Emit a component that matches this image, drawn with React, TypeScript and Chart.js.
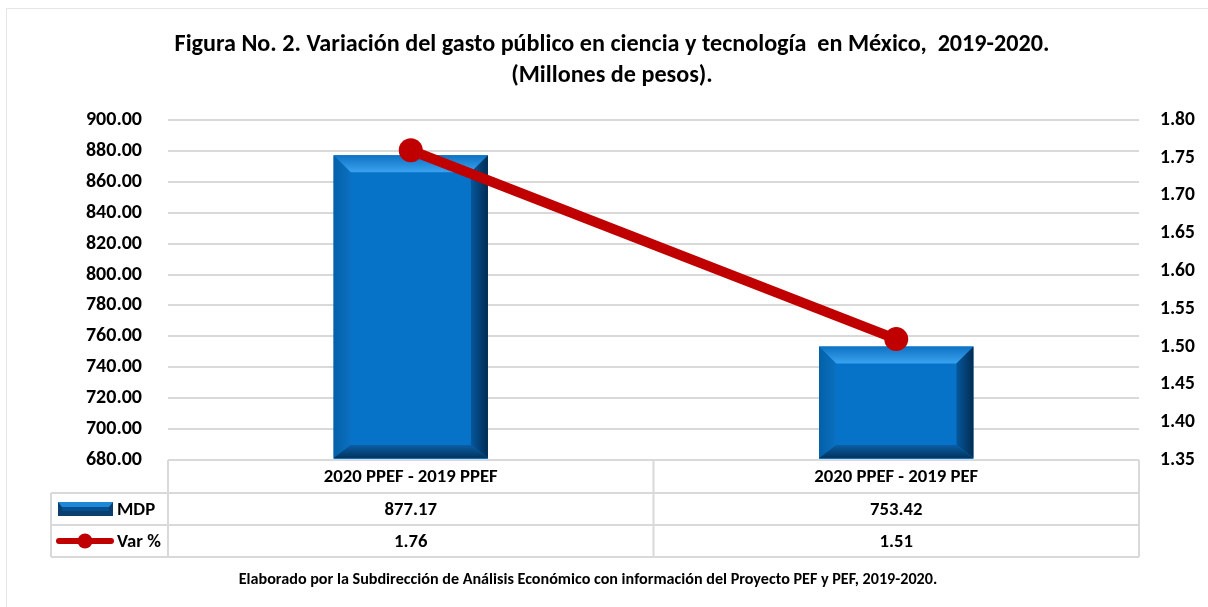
import React, { useEffect, useRef } from 'react';
import { Chart, registerables } from 'chart.js';

Chart.register(...registerables);

const categories = ['2020 PPEF - 2019 PPEF', '2020 PPEF - 2019 PEF'];
const mdpValues = [877.17, 753.42];
const varValues = [1.76, 1.51];
const mdpLabels = ['877.17', '753.42'];
const varLabels = ['1.76', '1.51'];
const seriesNames = ['MDP', 'Var %'];
const titleLines = [
  'Figura No. 2. Variación del gasto público en ciencia y tecnología  en México,  2019-2020.',
  '(Millones de pesos).',
];
const footerText =
  'Elaborado por la Subdirección de Análisis Económico con información del Proyecto PEF y PEF, 2019-2020.';

const FONT = 'Carlito, Lato, sans-serif';
const GRID = '#D9D9D9';
const RED = '#C00000';
const FACE = '#0673C8';

function fitSize(ctx: CanvasRenderingContext2D, text: string, target: number) {
  ctx.font = `bold 100px ${FONT}`;
  const w = ctx.measureText(text).width;
  return (100 * target) / w;
}

function drawBevel(ctx: CanvasRenderingContext2D, l: number, t: number, r: number, b: number, bv: number, bb: number) {
  let g = ctx.createLinearGradient(0, t, 0, t + bv);
  g.addColorStop(0, '#0E72C2');
  g.addColorStop(1, '#3AA3F0');
  ctx.fillStyle = g;
  ctx.beginPath();
  ctx.moveTo(l, t); ctx.lineTo(r, t); ctx.lineTo(r - bv, t + bv); ctx.lineTo(l + bv, t + bv); ctx.closePath();
  ctx.fill();
  g = ctx.createLinearGradient(l, 0, l + bv, 0);
  g.addColorStop(0, '#0460A8');
  g.addColorStop(1, '#0A70C0');
  ctx.fillStyle = g;
  ctx.beginPath();
  ctx.moveTo(l, t); ctx.lineTo(l + bv, t + bv); ctx.lineTo(l + bv, b - bb); ctx.lineTo(l, b); ctx.closePath();
  ctx.fill();
  g = ctx.createLinearGradient(r, 0, r - bv, 0);
  g.addColorStop(0, '#022C52');
  g.addColorStop(1, '#05579C');
  ctx.fillStyle = g;
  ctx.beginPath();
  ctx.moveTo(r, t); ctx.lineTo(r, b); ctx.lineTo(r - bv, b - bb); ctx.lineTo(r - bv, t + bv); ctx.closePath();
  ctx.fill();
  g = ctx.createLinearGradient(0, b, 0, b - bb);
  g.addColorStop(0, '#03345E');
  g.addColorStop(1, '#0A5EA6');
  ctx.fillStyle = g;
  ctx.beginPath();
  ctx.moveTo(l, b); ctx.lineTo(r, b); ctx.lineTo(r - bv, b - bb); ctx.lineTo(l + bv, b - bb); ctx.closePath();
  ctx.fill();
}

const customPlugin = {
  id: 'customDecor',
  beforeDraw(chart: any) {
    const ctx: CanvasRenderingContext2D = chart.ctx;
    ctx.save();
    ctx.fillStyle = '#FFFFFF';
    ctx.fillRect(0, 0, chart.width, chart.height);
    ctx.strokeStyle = '#E6E6E6';
    ctx.lineWidth = 1;
    ctx.strokeRect(6.5, 8.5, chart.width + 10, chart.height + 10);
    ctx.restore();
  },
  afterDatasetDraw(chart: any, args: any) {
    if (args.index !== 0) return;
    const ctx: CanvasRenderingContext2D = chart.ctx;
    const area = chart.chartArea;
    const meta = chart.getDatasetMeta(0);
    ctx.save();
    meta.data.forEach((el: any) => {
      const l = el.x - el.width / 2;
      const r = el.x + el.width / 2;
      const bottom = Math.min(el.base, area.bottom);
      drawBevel(ctx, l, el.y, r, bottom - 2, 17, 13);
      ctx.strokeStyle = '#8DB6DA';
      ctx.lineWidth = 1;
      ctx.beginPath();
      ctx.moveTo(l, bottom - 0.5);
      ctx.lineTo(r, bottom - 0.5);
      ctx.stroke();
    });
    ctx.restore();
  },
  afterDraw(chart: any) {
    const ctx: CanvasRenderingContext2D = chart.ctx;
    const area = chart.chartArea;
    const xs = chart.scales.x;
    ctx.save();
    ctx.fillStyle = '#000000';
    ctx.textAlign = 'center';
    ctx.textBaseline = 'middle';

    const ts = fitSize(ctx, titleLines[0], 875);
    ctx.font = `bold ${ts}px ${FONT}`;
    ctx.fillText(titleLines[0], 612, 45);
    ctx.fillText(titleLines[1], 612, 76);

    const rows = [area.bottom, area.bottom + 33, area.bottom + 65, area.bottom + 97];
    const legendLeft = 51;
    const n = categories.length;
    const colW = (area.right - area.left) / n;
    ctx.strokeStyle = GRID;
    ctx.lineWidth = 2;
    ctx.beginPath();
    ctx.moveTo(area.left, rows[0]); ctx.lineTo(area.right, rows[0]);
    for (let i = 1; i < 4; i++) {
      ctx.moveTo(legendLeft, rows[i]); ctx.lineTo(area.right, rows[i]);
    }
    for (let c = 0; c <= n; c++) {
      const x = area.left + c * colW;
      ctx.moveTo(x, rows[0]); ctx.lineTo(x, rows[3]);
    }
    ctx.moveTo(legendLeft, rows[1]); ctx.lineTo(legendLeft, rows[3]);
    ctx.stroke();

    const cs = fitSize(ctx, categories[0], 174);
    ctx.font = `bold ${cs}px ${FONT}`;
    ctx.fillStyle = '#000000';
    categories.forEach((c, i) => {
      const cx = xs.getPixelForValue(i);
      ctx.fillText(c, cx, (rows[0] + rows[1]) / 2 + 1);
      ctx.fillText(mdpLabels[i], cx, (rows[1] + rows[2]) / 2 + 1);
      ctx.fillText(varLabels[i], cx, (rows[2] + rows[3]) / 2 + 1);
    });

    ctx.textAlign = 'left';
    ctx.fillText(seriesNames[0], 117, (rows[1] + rows[2]) / 2 + 1);
    ctx.fillText(seriesNames[1], 117, (rows[2] + rows[3]) / 2 + 1);

    const kl = 58, kr = 113, kt = 502, kb = 516;
    ctx.fillStyle = '#0B3F6E';
    ctx.fillRect(kl, kt, kr - kl, kb - kt);
    ctx.fillStyle = '#1E88D8';
    ctx.beginPath();
    ctx.moveTo(kl, kt); ctx.lineTo(kr, kt); ctx.lineTo(kr - 4, kt + 5); ctx.lineTo(kl + 4, kt + 5); ctx.closePath();
    ctx.fill();
    ctx.fillStyle = '#06508F';
    ctx.fillRect(kl + 4, kt + 5, kr - kl - 8, 4);

    const ly = (rows[2] + rows[3]) / 2;
    ctx.strokeStyle = RED;
    ctx.lineWidth = 6;
    ctx.lineCap = 'round';
    ctx.beginPath();
    ctx.moveTo(59, ly); ctx.lineTo(111, ly);
    ctx.stroke();
    ctx.fillStyle = RED;
    ctx.beginPath();
    ctx.arc(85, ly, 7.5, 0, Math.PI * 2);
    ctx.fill();

    ctx.textAlign = 'center';
    ctx.fillStyle = '#000000';
    const fs = fitSize(ctx, footerText, 699);
    ctx.font = `bold ${fs}px ${FONT}`;
    ctx.fillText(footerText, 588, 580);
    ctx.restore();
  },
};

export default function App() {
  const canvasRef = useRef<HTMLCanvasElement | null>(null);

  useEffect(() => {
    if (!canvasRef.current) return;
    const chart = new Chart(canvasRef.current, {
      type: 'bar',
      data: {
        labels: categories,
        datasets: [
          {
            type: 'bar',
            label: seriesNames[0],
            data: mdpValues,
            backgroundColor: FACE,
            borderWidth: 0,
            barPercentage: 0.318,
            categoryPercentage: 1,
            yAxisID: 'y',
            order: 1,
          },
          {
            type: 'line',
            label: seriesNames[1],
            data: varValues,
            borderColor: RED,
            backgroundColor: RED,
            borderWidth: 10,
            pointRadius: 12,
            pointBackgroundColor: RED,
            pointBorderWidth: 0,
            yAxisID: 'y1',
            order: 0,
          } as any,
        ],
      },
      options: {
        animation: false,
        responsive: false,
        devicePixelRatio: 1,
        layout: { padding: { left: 0, right: 0, top: 120, bottom: 147 } },
        plugins: {
          legend: { display: false },
          title: { display: false },
          tooltip: { enabled: false },
        },
        scales: {
          x: {
            display: false,
            offset: true,
            grid: { display: false },
          },
          y: {
            position: 'left',
            min: 680,
            max: 900,
            ticks: {
              stepSize: 20,
              autoSkip: false,
              padding: 26,
              color: '#000000',
              font: { family: FONT, size: 20, weight: 'bold' },
              callback: (v: any) => Number(v).toFixed(2),
            },
            grid: { color: GRID, lineWidth: 2, drawTicks: false },
            border: { display: false },
            afterFit: (s: any) => {
              s.width = 168;
            },
          },
          y1: {
            position: 'right',
            min: 1.35,
            max: 1.8,
            ticks: {
              stepSize: 0.05,
              autoSkip: false,
              padding: 21,
              color: '#000000',
              font: { family: FONT, size: 19.5, weight: 'bold' },
              callback: (v: any) => Number(v).toFixed(2),
            },
            grid: { display: false, drawTicks: false },
            border: { display: false },
            afterFit: (s: any) => {
              s.width = 69;
            },
          },
        },
      } as any,
      plugins: [customPlugin],
    });
    return () => chart.destroy();
  }, []);

  return (
    <div style={{ position: 'fixed', left: 0, top: 0, width: 1208, height: 607, background: '#fff' }}>
      <canvas ref={canvasRef} width={1208} height={607} style={{ display: 'block' }} />
    </div>
  );
}
